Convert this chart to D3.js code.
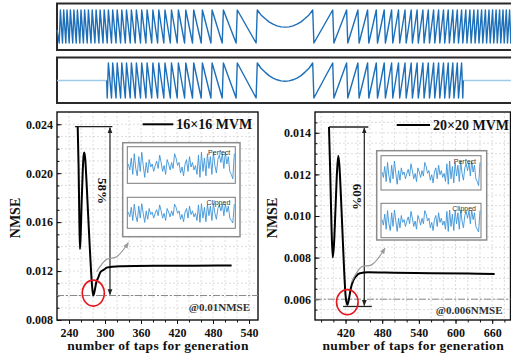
<!DOCTYPE html>
<html>
<head>
<meta charset="utf-8">
<script src="https://cdn.jsdelivr.net/npm/d3@7"></script>
<style>
  body { margin: 0; background: #fff; }
  svg { display: block; font-family: "Liberation Serif", "Times New Roman", serif; }
</style>
</head>
<body>
<svg id="fig" width="511" height="361"></svg>
<script>
// ---- waveform strip (distance of each tooth edge from the centre, centre dip) ----
const toothEdges = [28.3, 48.3, 62.2, 73.5, 83.2, 91.9, 99.8, 107.2, 114.1, 120.6, 126.8, 132.7,
  138.5, 143.9, 149.2, 154.2, 159.1, 163.8, 168.4, 172.9, 177.2, 181.4, 185.5, 189.5, 193.4,
  197.2, 201.0, 204.6, 208.2, 211.7, 215.2, 218.6, 221.9, 225.2];
const dipDist = [24, 20, 16, 12, 8, 4, 0];
const dipLevel = [0.85, 0.74, 0.64, 0.57, 0.52, 0.49, 0.48];

// ---- NMSE vs taps ----
const taps16 = [254.5, 256, 257.3, 258.3, 259.5, 261, 263, 264.5, 265.5, 267, 269, 271, 273, 275, 277, 279,
  280.5, 282, 285.6, 289, 292.2, 297.8, 304, 311.7, 325, 350, 400, 450, 511];
const nmse16 = [0.0238, 0.0205, 0.0160, 0.0138, 0.0150, 0.0175, 0.0203, 0.0215, 0.0217, 0.0212, 0.0195, 0.0175,
  0.0155, 0.0136, 0.0118, 0.0105, 0.0100, 0.0102, 0.0111, 0.0115, 0.0119, 0.0121, 0.0123, 0.01235, 0.0124,
  0.01242, 0.01243, 0.01244, 0.01245];
const taps20 = [392.9, 395, 397, 399, 401, 403.5, 406, 408.1, 410, 412.5, 415, 417.5, 420, 422.9, 425.5,
  428.5, 432.7, 437, 443.6, 457, 500, 560, 620, 664];
const nmse20 = [0.01428, 0.0120, 0.0095, 0.0080, 0.0086, 0.0103, 0.0121, 0.0129, 0.0124, 0.0109, 0.0092,
  0.0075, 0.0062, 0.00573, 0.0060, 0.0065, 0.0069, 0.0071, 0.00725, 0.00729, 0.00727, 0.00725, 0.00723, 0.00721];

const xTicks16 = [240, 300, 360, 420, 480, 540];
const yTicks16 = [0.008, 0.012, 0.016, 0.020, 0.024];
const xTicks20 = [420, 480, 540, 600, 660];
const yTicks20 = [0.006, 0.008, 0.010, 0.012, 0.014];

// ---- inset output signals ----
const perfectSig = [0.55, 0.35, 0.75, 0.2, 0.9, 0.4, 0.15, 0.8, 0.3, 0.95, 0.5, 0.1, 0.6, 0.25, 0.7, 0.45,
  0.55, 0.3, 0.5, 0.65, 0.4, 0.85, 0.6, 0.3, 0.5, 0.2, 0.7, 0.55, 0.35, 0.6, 0.4, 0.9, 0.75, 0.5, 0.6, 0.25,
  0.45, 0.15, 0.55, 0.7, 0.3, 0.8, 0.45, 0.6, 0.35, 0.5, 0.2, 0.85, 0.1, 0.95, 0.3, 0.75, 0.15, 0.9, 0.4, 0.8,
  0.2, 0.95, 0.5, 0.25, 0.7, 0.85, 0.6, 0.9, 0.4, 0.95, 0.55, 0.8, 0.3, 0.2, 0.05, 0.9];
const clippedSig = [0.55, 0.35, 0.75, 0.2, 0.88, 0.4, 0.15, 0.8, 0.3, 0.9, 0.5, 0.12, 0.6, 0.25, 0.7, 0.45,
  0.55, 0.3, 0.5, 0.65, 0.4, 0.85, 0.6, 0.3, 0.5, 0.2, 0.7, 0.55, 0.35, 0.6, 0.4, 0.88, 0.75, 0.5, 0.6, 0.25,
  0.45, 0.15, 0.55, 0.7, 0.3, 0.8, 0.45, 0.6, 0.35, 0.5, 0.2, 0.85, 0.12, 0.9, 0.3, 0.75, 0.15, 0.88, 0.4, 0.8,
  0.2, 0.9, 0.5, 0.25, 0.7, 0.85, 0.6, 0.88, 0.4, 0.9, 0.55, 0.8, 0.3, 0.2, 0.1, 0.88];

const svg = d3.select('#fig');
const defs = svg.append('defs');

function marker(id, color) {
  defs.append('marker')
    .attr('id', id)
    .attr('viewBox', '0 0 10 10')
    .attr('refX', 9).attr('refY', 5)
    .attr('markerWidth', 5).attr('markerHeight', 5)
    .attr('orient', 'auto-start-reverse')
    .append('path').attr('d', 'M0,1L10,5L0,9Z').attr('fill', color);
}
marker('blackHead', '#222');
marker('grayHead', '#999');

// ---------- top strips ----------
function sawPoints(maxD, edge, edgeLevel) {
  const eps = 0.6;
  const used = toothEdges.filter(d => d <= maxD);
  const pts = [[-edge, edgeLevel]];
  for (let i = used.length - 1; i >= 0; i--) {
    pts.push([-used[i] - eps, 0]);
    pts.push([-used[i] + eps, 1]);
  }
  dipDist.forEach((d, i) => pts.push([-d, dipLevel[i]]));
  for (let i = dipDist.length - 2; i >= 0; i--) pts.push([dipDist[i], dipLevel[i]]);
  used.forEach(d => {
    pts.push([d - eps, 1]);
    pts.push([d + eps, 0]);
  });
  pts.push([edge, edgeLevel]);
  return pts;
}

const stripX = d3.scaleLinear().domain([-228, 228]).range([57, 513]);

function strip(top, h, yLo, yHi, pts, flats) {
  const y = d3.scaleLinear().domain([0, 1]).range([yLo, yHi]);
  const line = d3.line().x(d => stripX(d[0])).y(d => y(d[1]));
  const g = svg.append('g');
  g.append('rect').attr('x', 57).attr('y', top).attr('width', 460).attr('height', h)
    .attr('fill', '#fff').attr('stroke', '#2a2a2a').attr('stroke-width', 2);
  flats.forEach(f => {
    g.append('path').attr('d', line(f)).attr('fill', 'none')
      .attr('stroke', '#9fcbea').attr('stroke-width', 1.6);
  });
  g.append('path').attr('d', line(pts)).attr('fill', 'none')
    .attr('stroke', '#1c6fb8').attr('stroke-width', 1.4).attr('stroke-linejoin', 'round');
}

strip(3.5, 46.5, 43, 10, sawPoints(228, 228, 0.4), []);
strip(57.5, 45.5, 98, 63, sawPoints(177.2, 178.3, 0.5),
  [[[-228, 0.5], [-178.3, 0.5]], [[178.3, 0.5], [228, 0.5]]]);

// ---------- NMSE panels ----------
function minorRange(d0, d1, step) {
  const a = Math.floor(d0 / step + 1e-9) + 1;
  const b = Math.ceil(d1 / step - 1e-9);
  return d3.range(a, b).map(k => +(k * step).toFixed(6));
}

function drawPlot(o) {
  const g = svg.append('g');
  const x = d3.scaleLinear().domain(o.xDomain).range([o.left, o.right]);
  const y = d3.scaleLinear().domain(o.yDomain).range([o.bottom, o.top]);

  // grid
  const gx = minorRange(o.xDomain[0], o.xDomain[1], o.xMinor);
  const gy = minorRange(o.yDomain[0], o.yDomain[1], o.yMinor);
  g.append('g').selectAll('line').data(gx).join('line')
    .attr('x1', d => x(d)).attr('x2', d => x(d)).attr('y1', o.top).attr('y2', o.bottom)
    .attr('stroke', '#cfcfcf').attr('stroke-width', 0.7).attr('stroke-dasharray', '2,2');
  g.append('g').selectAll('line').data(gy).join('line')
    .attr('y1', d => y(d)).attr('y2', d => y(d)).attr('x1', o.left).attr('x2', o.right)
    .attr('stroke', '#cfcfcf').attr('stroke-width', 0.7).attr('stroke-dasharray', '2,2');

  // axes
  const ax = g.append('g').attr('transform', `translate(0,${o.bottom})`)
    .call(d3.axisBottom(x).tickValues(o.xTicks).tickSize(4).tickPadding(4).tickFormat(d3.format('d')));
  const axm = g.append('g').attr('transform', `translate(0,${o.bottom})`)
    .call(d3.axisBottom(x).tickValues(gx).tickSize(2.5).tickFormat(''));
  const ay = g.append('g').attr('transform', `translate(${o.left},0)`)
    .call(d3.axisLeft(y).tickValues(o.yTicks).tickSize(-4.5).tickPadding(4).tickFormat(d3.format('.3f')));
  const aym = g.append('g').attr('transform', `translate(${o.left},0)`)
    .call(d3.axisLeft(y).tickValues(gy).tickSize(-2.5).tickFormat(''));
  [ax, axm, ay, aym].forEach(a => {
    a.select('.domain').remove();
    a.selectAll('line').attr('stroke', '#111').attr('stroke-width', 1);
    a.selectAll('text').attr('font-family', '"Liberation Serif", serif')
      .attr('font-weight', 'bold').attr('font-size', 12).attr('fill', '#111');
  });

  g.append('rect').attr('x', o.left).attr('y', o.top)
    .attr('width', o.right - o.left).attr('height', o.bottom - o.top)
    .attr('fill', 'none').attr('stroke', '#111').attr('stroke-width', 1.4);

  // reference line
  g.append('line').attr('x1', o.left).attr('x2', o.right)
    .attr('y1', y(o.ref)).attr('y2', y(o.ref))
    .attr('stroke', '#8a8a8a').attr('stroke-width', 1).attr('stroke-dasharray', '7,2,2,2');
  g.append('text').attr('x', o.right - 8).attr('y', y(o.ref) + 15)
    .attr('text-anchor', 'end').attr('font-weight', 'bold').attr('font-size', 11)
    .attr('fill', '#333').text(o.refLabel);

  // bracket lines and double arrow
  const a = o.arrow;
  g.append('line').attr('x1', x(a.topX[0])).attr('x2', x(a.topX[1]))
    .attr('y1', y(a.y0)).attr('y2', y(a.y0)).attr('stroke', '#222').attr('stroke-width', 1.3);
  if (a.botX) {
    g.append('line').attr('x1', x(a.botX[0])).attr('x2', x(a.botX[1]))
      .attr('y1', y(a.y1)).attr('y2', y(a.y1)).attr('stroke', '#222').attr('stroke-width', 1.3);
  }
  g.append('line').attr('x1', x(a.x)).attr('x2', x(a.x))
    .attr('y1', y(a.y0) + 1).attr('y2', y(a.y1) - 1)
    .attr('stroke', '#222').attr('stroke-width', 1.2)
    .attr('marker-start', 'url(#blackHead)').attr('marker-end', 'url(#blackHead)');
  g.append('text')
    .attr('transform', `translate(${x(a.x) - 7},${(y(a.y0) + y(a.y1)) / 2 - 20}) rotate(90)`)
    .attr('text-anchor', 'middle').attr('dy', '0.35em')
    .attr('font-weight', 'bold').attr('font-size', 13).attr('fill', '#111').text(a.label);

  // curve
  const line = d3.line().x(d => x(d[0])).y(d => y(d[1])).curve(d3.curveMonotoneX);
  g.append('path').attr('d', line(o.taps.map((t, i) => [t, o.vals[i]])))
    .attr('fill', 'none').attr('stroke', '#000').attr('stroke-width', 2).attr('stroke-linejoin', 'round');

  // red circle
  g.append('ellipse').attr('cx', x(o.ring[0])).attr('cy', y(o.ring[1]))
    .attr('rx', o.ringR[0]).attr('ry', o.ringR[1])
    .attr('fill', 'none').attr('stroke', '#e6161c').attr('stroke-width', 1.6);

  // gray pointer
  const pl = d3.line().x(d => x(d[0])).y(d => y(d[1])).curve(d3.curveCatmullRom);
  g.append('path').attr('d', pl(o.pointer)).attr('fill', 'none')
    .attr('stroke', '#999').attr('stroke-width', 1.2).attr('marker-end', 'url(#grayHead)');

  // inset
  const ins = o.inset;
  const ig = g.append('g').attr('transform', `translate(${o.left + ins.dx},${o.top + ins.dy})`);
  ig.append('rect').attr('width', ins.w).attr('height', ins.h)
    .attr('fill', '#fff').attr('stroke', '#8c8c8c').attr('stroke-width', 1.5);
  [[perfectSig, 'Perfect', ins.box1], [clippedSig, 'Clipped', ins.box2]].forEach(([sig, name, b]) => {
    const bg = ig.append('g').attr('transform', `translate(${b[0]},${b[1]})`);
    bg.append('rect').attr('width', b[2]).attr('height', b[3])
      .attr('fill', '#fff').attr('stroke', '#7a7a7a').attr('stroke-width', 1);
    const sx = d3.scaleLinear().domain([0, sig.length - 1]).range([1, b[2] - 1]);
    const sy = d3.scaleLinear().domain([0, 1]).range([b[3] - 3, 4]);
    bg.append('path').attr('d', d3.line().x((d, i) => sx(i)).y(d => sy(d))(sig))
      .attr('fill', 'none').attr('stroke', '#3d93d6').attr('stroke-width', 0.9);
    bg.append('text').attr('x', b[2] - 5).attr('y', 8).attr('text-anchor', 'end')
      .attr('font-family', '"Liberation Sans", Arial, sans-serif').attr('font-size', 7)
      .attr('fill', '#333').text(name);
  });

  // legend
  g.append('line').attr('x1', o.legend[0]).attr('x2', o.legend[0] + o.legend[2])
    .attr('y1', o.legend[1]).attr('y2', o.legend[1]).attr('stroke', '#000').attr('stroke-width', 2);
  g.append('text').attr('x', o.legend[0] + o.legend[2] + 3).attr('y', o.legend[1] + 5)
    .attr('font-weight', 'bold').attr('font-size', 14).attr('fill', '#111').text(o.name);

  // axis titles
  g.append('text').attr('transform', `translate(${o.yTitleX},${(o.top + o.bottom) / 2 + 2}) rotate(-90)`)
    .attr('text-anchor', 'middle').attr('dy', '0.35em')
    .attr('font-weight', 'bold').attr('font-size', 14).attr('fill', '#111').text('NMSE');
  g.append('text').attr('x', (o.left + o.right) / 2 + 0.5).attr('y', 350)
    .attr('text-anchor', 'middle').attr('font-weight', 'bold').attr('font-size', 13.5)
    .attr('letter-spacing', 0.3).attr('fill', '#111').text('number of taps for generation');
}

drawPlot({
  name: '16×16 MVM',
  left: 57, right: 258, top: 112, bottom: 320,
  xDomain: [220, 555], yDomain: [0.008, 0.025], xMinor: 20, yMinor: 0.001,
  xTicks: xTicks16, yTicks: yTicks16,
  taps: taps16, vals: nmse16,
  ref: 0.01, refLabel: '@0.01NMSE',
  arrow: { x: 308.3, y0: 0.0238, y1: 0.0100, topX: [250, 312.2], label: '58%' },
  ring: [280.5, 0.0102], ringR: [11, 13],
  pointer: [[286, 0.01194], [302.8, 0.01296], [319.5, 0.01317], [338.8, 0.01431]],
  inset: { dx: 65.7, dy: 30.7, w: 117.3, h: 94, box1: [4.6, 4, 108, 36.6], box2: [4.6, 54.6, 108, 31] },
  legend: [142.7, 124.3, 30.6],
  yTitleX: 15
});

drawPlot({
  name: '20×20 MVM',
  left: 315, right: 510.5, top: 112, bottom: 320,
  xDomain: [370, 690], yDomain: [0.005, 0.015], xMinor: 20, yMinor: 0.0005,
  xTicks: xTicks20, yTicks: yTicks20,
  taps: taps20, vals: nmse20,
  ref: 0.006, refLabel: '@0.006NMSE',
  arrow: { x: 450.7, y0: 0.01428, y1: 0.00565, topX: [392.9, 457.3], botX: [416, 463], label: '60%' },
  ring: [422.9, 0.00586], ringR: [10.8, 12.5],
  pointer: [[430, 0.00684], [446.4, 0.00756], [462.8, 0.00765], [484.6, 0.00845]],
  inset: { dx: 61.7, dy: 38.7, w: 110, h: 89.3, box1: [4.3, 5, 100, 34.3], box2: [4.3, 52.6, 100, 34.4] },
  legend: [396.7, 125, 33.3],
  yTitleX: 271.7
});
</script>
</body>
</html>
